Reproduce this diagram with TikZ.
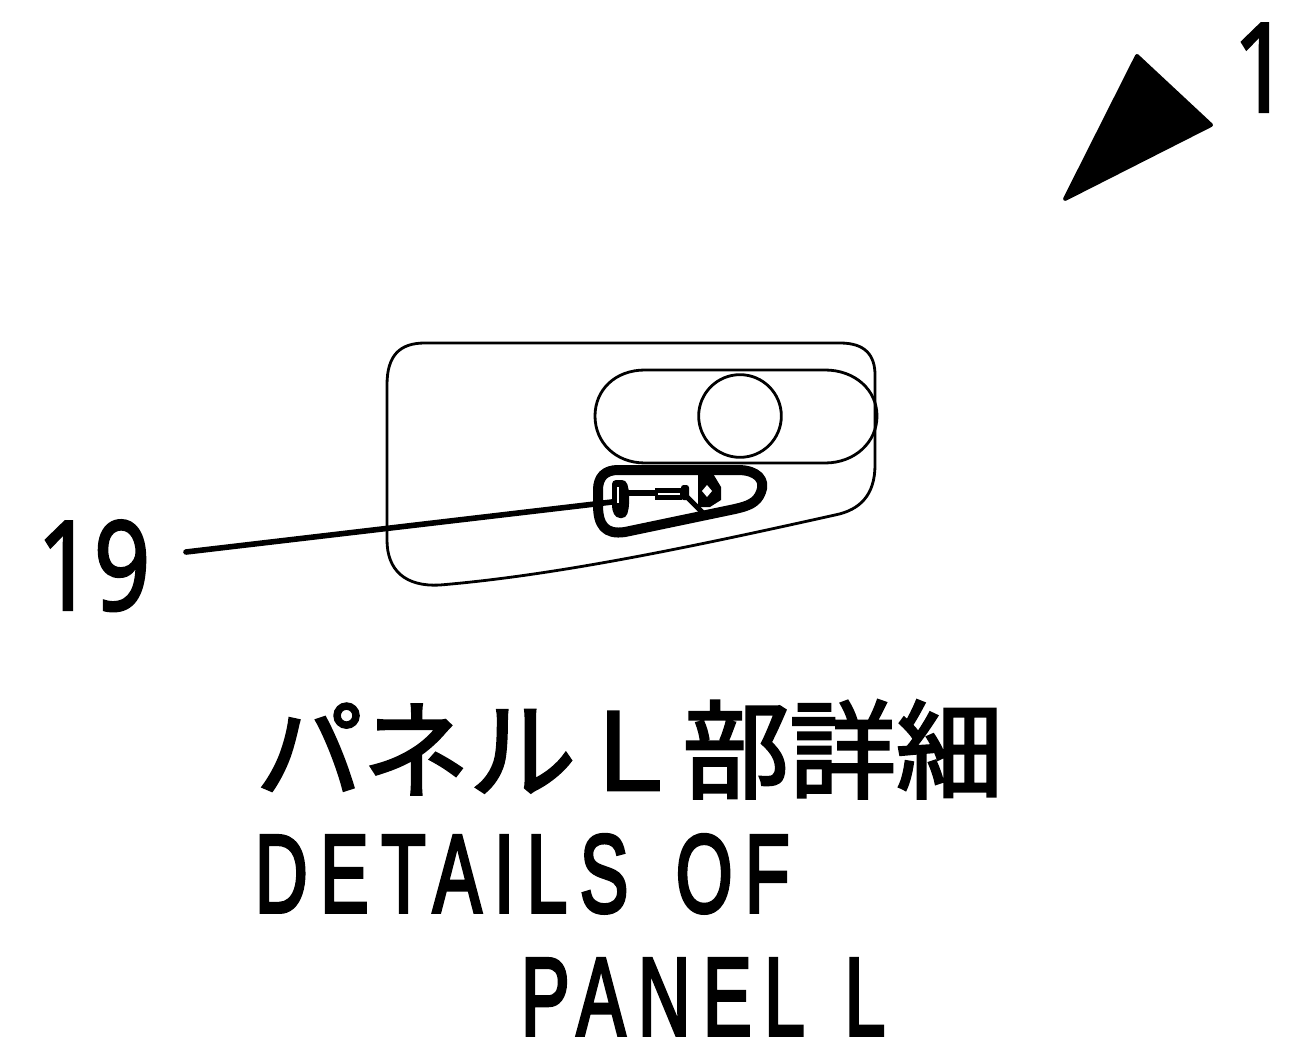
\documentclass[tikz,border=0pt]{standalone}
\usepackage{fontspec}
\setmainfont{Liberation Sans}
\newfontfamily\cjk[FakeBold=2.5]{Noto Sans CJK JP}
\newfontfamily\spaced[LetterSpace=17,FakeBold=3.5]{Liberation Sans}
\newfontfamily\digits[FakeBold=2]{Noto Sans}
\tikzset{
  thinl/.style={draw=black,line width=2.1pt,line join=round,line cap=round},
  lab/.style={anchor=base west,inner sep=0pt,outer sep=0pt,font=\digits\fontsize{93}{93}\selectfont,xscale=.8},
  captext/.style={anchor=base west,inner sep=0pt,outer sep=0pt,font=\spaced\fontsize{83}{83}\selectfont,xscale=.66},
  cjkl/.style={anchor=base west,inner sep=0pt,outer sep=0pt,font=\cjk\fontsize{80}{80}\selectfont},
}
\begin{document}
\begin{tikzpicture}[x=0.75pt,y=-0.75pt]
\useasboundingbox (0,0) rectangle (1293,1059);
\fill[white] (0,0) rectangle (1293,1059);
% triangle
\fill[black,draw=black,line width=3pt,line join=round] (1137,56) -- (1211,125) -- (1065,199) -- cycle;
\node[lab] (one) at (1233,112) {1};
% panel
\draw[thinl] (387,385) .. controls (387,355) and (400,343) .. (425,343) -- (840,343) .. controls (865,343) and (875,355) .. (875,375) -- (875,465) .. controls (875,495) and (860,510) .. (835,515) .. controls (700,545) and (560,575) .. (440,585) .. controls (405,587) and (387,570) .. (387,540) -- cycle;
\draw[thinl] (645,370) -- (825,370) .. controls (855,370) and (877,390) .. (877,416) .. controls (877,442) and (855,463) .. (825,463) -- (645,463) .. controls (615,463) and (595,442) .. (595,416) .. controls (595,390) and (615,370) .. (645,370) -- cycle;
\node[circle,thinl,minimum size=62pt,inner sep=0pt] (knob) at (740,416) {};
% slot
\draw[draw=black,line width=7.5pt,line join=round] (618,470) -- (738,470) .. controls (757,470) and (766,480) .. (761,492) .. controls (757,503) and (748,506) .. (735,509) -- (625,532) .. controls (605,535) and (598,525) .. (598,505) -- (598,490) .. controls (598,477) and (605,470) .. (618,470) -- cycle;
\coordinate (leadend) at (612,502);
\coordinate (leadstart) at (186,552);
\draw[line width=4.2pt,line cap=round] (leadstart) -- (leadend);
% screw: left head
\fill[black,rounded corners=3pt] (612,480) -- (626,480) -- (629,490) -- (629,508) -- (626,518) -- (616,518) -- (612,510) -- cycle;
\draw[white,line width=2pt] (618,487) -- (618,503);
% shank
\draw[line width=4.5pt] (628,493) -- (656,493);
\fill[black] (655,488) rectangle (682,500);
\draw[white,line width=1.3pt] (658,494) -- (680,494);
\fill[black,rounded corners=2pt] (681,485) rectangle (689,500);
\draw[line width=3.8pt,line cap=round] (687,497) -- (703,513);
% right blob
\fill[black] (698,472) -- (712,472) -- (721,487) -- (721,500) -- (710,507) -- (698,507) -- cycle;
\fill[white] (702,491) -- (707,485) -- (712,491) -- (707,497) -- cycle;
\node[lab] (n19) at (37,610) {19};
\node[cjkl] (jp) at (256,790) {パネルＬ部詳細};
\node[captext] (d1) at (255,912) {DETAILS\hspace{.2em} OF};
\node[captext] (d2) at (521,1035) {PANEL\hspace{.1em} L};
\end{tikzpicture}
\end{document}
